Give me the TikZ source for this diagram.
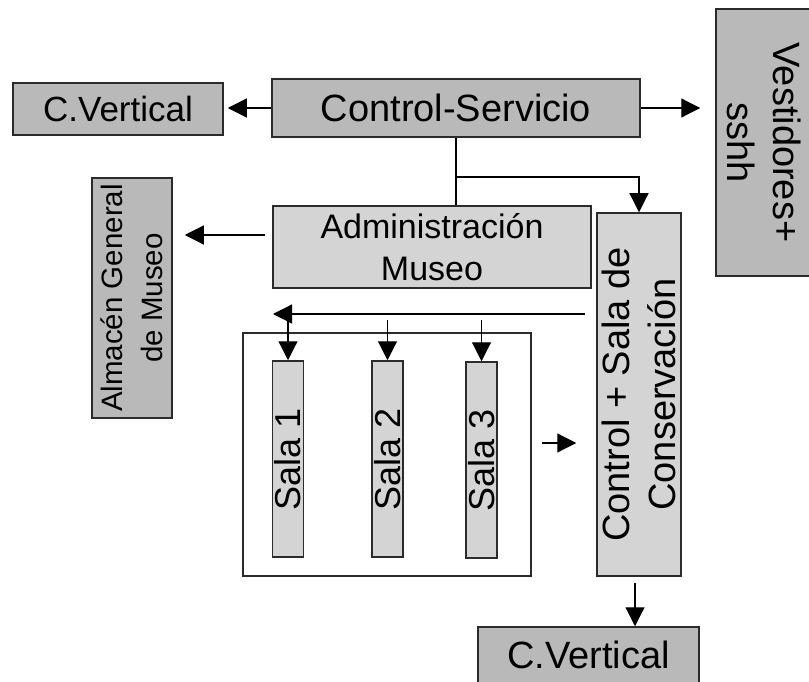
\documentclass[tikz,border=0pt]{standalone}
\usepackage{fontspec}
\setmainfont{Liberation Sans}
\usepackage{xcolor}
\usepackage{tikz}
\usetikzlibrary{arrows.meta, positioning, calc}
\definecolor{darkgrey}{HTML}{B9B9B9}
\definecolor{lightgrey}{HTML}{D4D4D4}
\definecolor{boxline}{HTML}{2B2B2B}
\tikzset{
  basebox/.style={draw=boxline, line width=1.5pt, inner sep=0pt, align=center},
  darkbox/.style={basebox, fill=darkgrey},
  lightbox/.style={basebox, fill=lightgrey},
  framebox/.style={draw=boxline, line width=1.5pt, fill=white},
  bigtxt/.style={font=\fontsize{38}{45.5}\selectfont},
  midtxt/.style={font=\fontsize{35}{42}\selectfont},
  admtxt/.style={font=\fontsize{34}{42}\selectfont},
  almtxt/.style={font=\fontsize{29.5}{40}\selectfont},
  salatxt/.style={font=\fontsize{36}{42}\selectfont},
  arr/.style={-{Triangle[length=19pt, width=19pt]}, line width=1.2pt, black},
  link/.style={line width=1.2pt, black}
}

\begin{document}
\begin{tikzpicture}[x=1pt, y=1pt]
\useasboundingbox (0,0) rectangle (809,-682);

% ===== TOP ROW =====
\node[darkbox, bigtxt, minimum width=368pt, minimum height=58pt] (CS) at (456,-108) {Control-Servicio};
\node[darkbox, midtxt, minimum width=210pt, minimum height=52pt] (CV1) at (118,-109) {C.Vertical};
\node[darkbox, bigtxt, rotate=-90, minimum width=267pt, minimum height=96pt] (VS) at (764,-142.5) {Vestidores+\\sshh};

% ===== MIDDLE =====
\node[darkbox, almtxt, rotate=90, minimum width=240pt, minimum height=80pt] (AGM) at (132,-298) {Almacén General\\de Museo};
\node[lightbox, admtxt, minimum width=318pt, minimum height=82pt] (ADM) at (432,-247) {Administración\\Museo};
\node[lightbox, bigtxt, rotate=90, minimum width=363pt, minimum height=84pt] (CSC) at (639,-394.5) {Control + Sala de\\Conservación};

% ===== SALAS =====
\node[framebox, minimum width=288pt, minimum height=243pt] (FR) at (387,-454.5) {};
\node[lightbox, salatxt, rotate=90, minimum width=196pt, minimum height=31pt] (S1) at (288,-459) {Sala 1};
\node[lightbox, salatxt, rotate=90, minimum width=196pt, minimum height=31pt] (S2) at (387.5,-459) {Sala 2};
\node[lightbox, salatxt, rotate=90, minimum width=196pt, minimum height=31pt] (S3) at (481.5,-460) {Sala 3};

% ===== BOTTOM =====
\node[darkbox, bigtxt, minimum width=221pt, minimum height=56pt] (CV2) at (588.5,-655) {C.Vertical};

% ===== CONNECTORS =====
\coordinate (split) at (456,-177);
\coordinate (busR) at (585,-314);
\coordinate (busL) at (273,-314);
\coordinate (drop) at (0,-320);

\draw[arr, shorten >=4pt] (CS.west) -- (CS.west -| CV1.east);
\draw[arr, shorten >=15pt] (CS.east) -- (CS.east -| VS.south);
\draw[link] (CS.south) -- (CS.south |- ADM.north);
\draw[arr] (split) -| (CSC.east);
\draw[arr, shorten <=7pt, shorten >=12pt] ([yshift=12pt]ADM.west) -- ([yshift=12pt]ADM.west -| AGM.south);

\draw[arr] (busR) -- (busL);
\draw[arr] (busL -| S1.east) -- (S1.east);
\draw[arr] (drop -| S2.east) -- (S2.east);
\draw[arr] (drop -| S3.east) -- (S3.east);

\draw[arr, shorten <=10pt, shorten >=20pt] ([yshift=11.5pt]FR.east) -- ([yshift=11.5pt]FR.east -| CSC.north);
\draw[arr, shorten <=6pt] ([xshift=-4pt]CSC.west) -- ([xshift=-4pt]CSC.west |- CV2.north);

\end{tikzpicture}
\end{document}
